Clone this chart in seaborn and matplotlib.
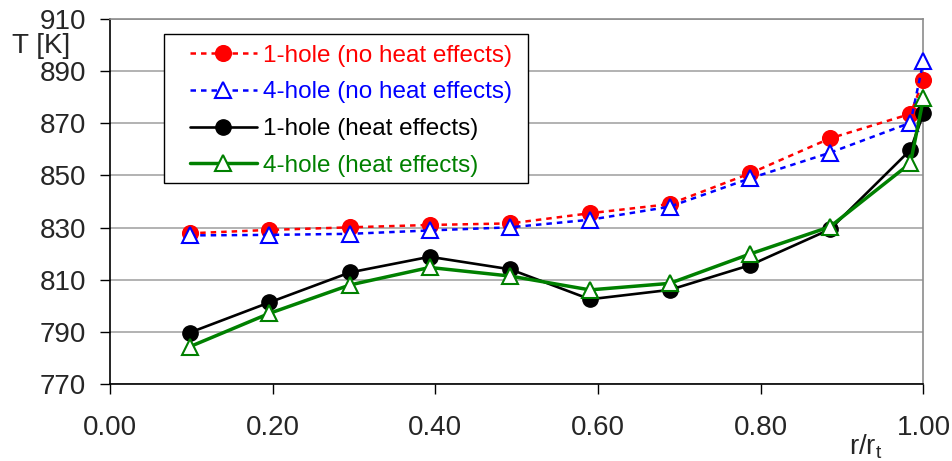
import matplotlib
matplotlib.use("Agg")
import matplotlib.pyplot as plt
import seaborn as sns
from matplotlib.patches import Rectangle
from matplotlib.ticker import FormatStrFormatter

# ---- data ----
r = [0.098, 0.196, 0.295, 0.393, 0.492, 0.590, 0.688, 0.787, 0.885, 0.984, 1.0]
t_1hole_noheat = [827.8, 829.1, 830.1, 831.0, 831.6, 835.5, 839.0, 850.8, 864.2, 873.6, 886.6]
t_4hole_noheat = [827.0, 827.2, 827.6, 828.9, 830.1, 833.0, 838.0, 848.9, 858.7, 870.2, 893.9]
t_1hole_heat = [789.7, 801.3, 812.8, 818.8, 814.0, 802.5, 806.1, 815.6, 829.3, 859.8, 873.8]
t_4hole_heat = [784.3, 797.1, 808.0, 814.7, 811.4, 806.1, 808.6, 819.9, 830.3, 854.7, 879.6]
labels = ["1-hole (no heat effects)", "4-hole (no heat effects)",
          "1-hole (heat effects)", "4-hole (heat effects)"]
y_ticks = [770, 790, 810, 830, 850, 870, 890, 910]
x_ticks = [0.0, 0.2, 0.4, 0.6, 0.8, 1.0]

sns.set_style("white")
plt.rcParams["font.family"] = ["Liberation Sans", "DejaVu Sans"]
plt.rcParams["mathtext.fontset"] = "custom"
plt.rcParams["mathtext.rm"] = "Liberation Sans"

fig = plt.figure(figsize=(9.53, 4.61), dpi=100)
ax = fig.add_axes([0.1154, 0.167, 0.8536, 0.7918])

red, blue, black, green = "#FF0000", "#0000FF", "#000000", "#008000"
dots = (0, (2.2, 2.0))

sns.lineplot(x=r, y=t_1hole_noheat, ax=ax, color=red, linestyle=dots, linewidth=1.8,
             marker="o", markersize=11.3, markerfacecolor=red, markeredgecolor=red,
             markeredgewidth=1, label=labels[0], zorder=3, clip_on=False)
sns.lineplot(x=r, y=t_4hole_noheat, ax=ax, color=blue, linestyle=dots, linewidth=1.8,
             marker="^", markersize=12, markerfacecolor="white", markeredgecolor=blue,
             markeredgewidth=1.5, label=labels[1], zorder=4, clip_on=False)
sns.lineplot(x=r, y=t_1hole_heat, ax=ax, color=black, linestyle="-", linewidth=1.9,
             marker="o", markersize=11, markerfacecolor=black, markeredgecolor=black,
             markeredgewidth=1, label=labels[2], zorder=5, clip_on=False)
sns.lineplot(x=r, y=t_4hole_heat, ax=ax, color=green, linestyle="-", linewidth=2.5,
             marker="^", markersize=12, markerfacecolor="white", markeredgecolor=green,
             markeredgewidth=1.5, label=labels[3], zorder=6, clip_on=False)

ax.set_xlim(0, 1.0)
ax.set_ylim(770, 910)
ax.set_xticks(x_ticks)
ax.set_yticks(y_ticks)
ax.xaxis.set_major_formatter(FormatStrFormatter("%.2f"))
ax.yaxis.set_major_formatter(FormatStrFormatter("%d"))
ax.tick_params(axis="both", labelsize=20, length=7, width=1, direction="out", color="black",
               bottom=True, left=True)
ax.tick_params(axis="x", pad=15.5)
ax.tick_params(axis="y", pad=10)

ax.yaxis.grid(True, color="#A6A6A6", linewidth=1.2)
ax.xaxis.grid(False)
ax.set_axisbelow(True)
for s in ["left", "bottom"]:
    ax.spines[s].set_color("black")
    ax.spines[s].set_linewidth(1.2)
for s in ["top", "right"]:
    ax.spines[s].set_color("#8C8C8C")
    ax.spines[s].set_linewidth(1.2)

ax.set_ylabel("T [K]", fontsize=20, rotation=0, va="center", ha="center")
ax.yaxis.set_label_coords(-0.0848, 0.927)
ax.set_xlabel(r"r/r$_\mathregular{t}$", fontsize=20, va="center", ha="center")
ax.xaxis.set_label_coords(0.929, -0.172)

# legend frame drawn as a box, legend content placed inside it
ax.add_patch(Rectangle((0.0664, 0.5507), 0.4474, 0.4082, transform=ax.transAxes,
                       facecolor="white", edgecolor="black", linewidth=1.0, zorder=7,
                       clip_on=False))
leg = ax.legend(loc="upper left", bbox_to_anchor=(0.0983, 0.9294), borderaxespad=0,
                borderpad=0, fontsize=17.5, frameon=False, handlelength=2.76,
                labelspacing=0.605, handletextpad=0.25)
leg.set_zorder(8)
for txt, c in zip(leg.get_texts(), [red, blue, black, green]):
    txt.set_color(c)

fig.savefig("out.png", dpi=100)
